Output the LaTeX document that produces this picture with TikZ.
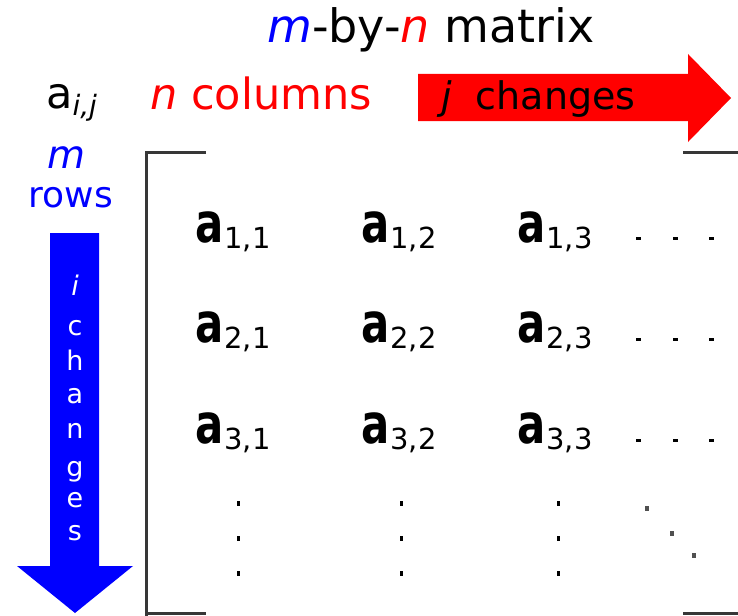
\documentclass[tikz,border=0pt]{standalone}
\usepackage{fontspec}
\setmainfont{DejaVu Sans}
\usepackage{graphicx}
\definecolor{pureRed}{RGB}{255,0,0}
\definecolor{pureBlue}{RGB}{0,0,255}
\definecolor{brkGray}{RGB}{55,55,55}
\definecolor{dotGray}{RGB}{80,80,80}
\newcommand{\fsz}[1]{\fontsize{#1}{#1}\selectfont}
\newcommand{\mentry}[2]{\scalebox{0.76}[1]{\fsz{55}\bfseries a}\hspace{1pt}\raisebox{-6pt}{\fsz{29}#1,#2}}
\begin{document}
\begin{tikzpicture}[x=1pt,y=-1pt,
  lbl/.style={inner sep=0pt, anchor=base west},
  vlet/.style={inner sep=0pt, anchor=base, text=white, font=\fsz{27}},
  ent/.style={inner sep=0pt, anchor=base west},
  brk/.style={draw=brkGray, line width=3pt},
  hdot/.style={fill=black},
  ddot/.style={fill=dotGray}]
\useasboundingbox (0,0) rectangle (738,615);

% title
\node[lbl] (title) at (267,43) {\fsz{46}\textcolor{pureBlue}{\itshape m}-by-\textcolor{pureRed}{\itshape n} matrix};

% a_{i,j}
\node[lbl] (aij) at (46,109) {\fsz{43}a\raisebox{-6pt}{\fsz{28}\itshape i,j}};

% n columns
\node[lbl, text=pureRed] (ncols) at (150,110) {\fsz{43}\itshape n\upshape{} columns};

% red arrow
\fill[pureRed] (418,74) -- (688,74) -- (688,54) -- (731,98) -- (688,142) -- (688,121) -- (418,121) -- cycle;
\node[lbl] (jch) at (441,110) {\fsz{38}\itshape j\upshape\hspace{24pt}changes};

% m rows
\node[lbl, text=pureBlue] (mrow) at (47,168) {\fsz{39}\itshape m};
\node[inner sep=0pt, anchor=base, text=pureBlue] (rows) at (71,207) {\fsz{36}rows};

% blue arrow
\fill[pureBlue] (50,233) -- (99,233) -- (99,566) -- (133,566) -- (75,613) -- (17,566) -- (50,566) -- cycle;
\node[vlet] (v1) at (75,295) {\itshape i};
\node[vlet] (v2) at (75,335) {c};
\node[vlet] (v3) at (75,370) {h};
\node[vlet] (v4) at (75,403) {a};
\node[vlet] (v5) at (75,438) {n};
\node[vlet] (v6) at (75,476) {g};
\node[vlet] (v7) at (75,507) {e};
\node[vlet] (v8) at (75,540) {s};

% brackets
\draw[brk] (206,152) -- (146,152) -- (146,617);
\draw[brk] (146,613) -- (206,613);
\draw[brk] (683,152) -- (740,152);
\draw[brk] (683,613) -- (740,613);

% entries
\node[ent] (e11) at (195,242) {\mentry{1}{1}};
\node[ent] (e12) at (361,242) {\mentry{1}{2}};
\node[ent] (e13) at (517,242) {\mentry{1}{3}};
\node[ent] (e21) at (195,342) {\mentry{2}{1}};
\node[ent] (e22) at (361,342) {\mentry{2}{2}};
\node[ent] (e23) at (517,342) {\mentry{2}{3}};
\node[ent] (e31) at (195,443) {\mentry{3}{1}};
\node[ent] (e32) at (361,443) {\mentry{3}{2}};
\node[ent] (e33) at (517,443) {\mentry{3}{3}};

% horizontal dots
\foreach \yy in {238,339,440}{
  \foreach \xx in {638,675,711}{
    \fill[hdot] (\xx-2.5,\yy-1.5) rectangle (\xx+2.5,\yy+1.5);
  }
}
% vertical dots
\foreach \xx in {238,401,558}{
  \foreach \yy in {503,538,573}{
    \fill[hdot] (\xx-1.5,\yy-2.5) rectangle (\xx+1.5,\yy+2.5);
  }
}
% diagonal dots
\foreach \xx/\yy in {647/508, 672/533, 694/555}{
  \fill[ddot] (\xx-2,\yy-2.5) rectangle (\xx+2,\yy+2.5);
}
\end{tikzpicture}
\end{document}
